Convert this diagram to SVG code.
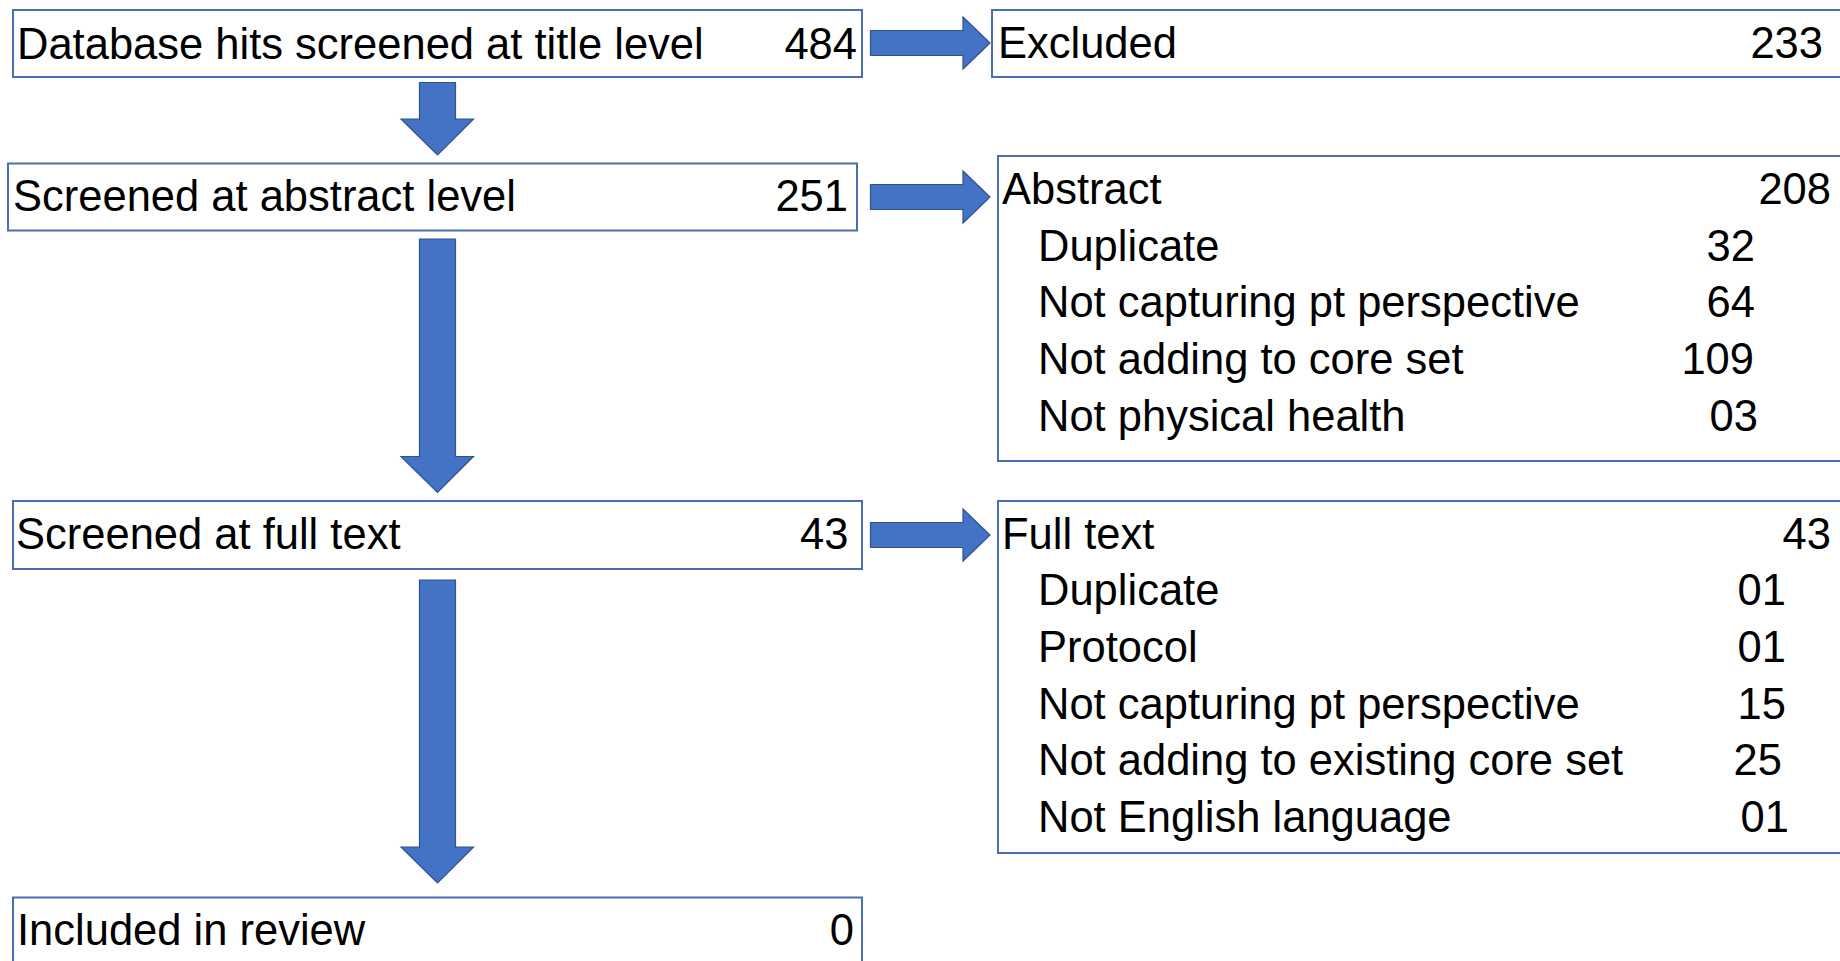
<svg xmlns="http://www.w3.org/2000/svg" width="1840" height="961" viewBox="0 0 1840 961">
<style>
  .box { fill: #ffffff; stroke: #4a6fb0; stroke-width: 2; }
  .arrow { fill: #4472C4; stroke: #2F528F; stroke-width: 1.2; }
  text { font-family: "Liberation Sans", Arial, sans-serif; font-size: 43.5px; fill: #000000; }
  .num { text-anchor: end; }
</style>
<rect width="1840" height="961" fill="#ffffff"/>
<g id="connectors">
  <polygon class="arrow" points="870.5,30.5 963,30.5 963,17 990,43 963,69 963,55.5 870.5,55.5"/>
  <polygon class="arrow" points="870.5,184.5 963,184.5 963,171 990,197 963,223 963,209.5 870.5,209.5"/>
  <polygon class="arrow" points="870.5,522.5 963,522.5 963,509 990,535 963,561 963,547.5 870.5,547.5"/>
  <polygon class="arrow" points="419.5,82.5 455.5,82.5 455.5,119 473.5,119 437.5,155 401,119 419.5,119"/>
  <polygon class="arrow" points="419.5,239 455.5,239 455.5,456.5 473.5,456.5 437.5,492.5 401,456.5 419.5,456.5"/>
  <polygon class="arrow" points="419.5,580 455.5,580 455.5,847 473.5,847 437.5,883 401,847 419.5,847"/>
</g>
<g id="node-title">
  <rect class="box" x="13" y="10" width="849" height="67"/>
  <text x="17" y="58.5">Database hits screened at title level</text>
  <text class="num" x="857" y="58.5">484</text>
</g>
<g id="node-excluded">
  <rect class="box" x="992" y="10" width="860" height="67"/>
  <text x="998" y="57.5">Excluded</text>
  <text class="num" x="1823" y="57.5">233</text>
</g>
<g id="node-abstract-level">
  <rect class="box" x="8" y="163.5" width="849" height="67"/>
  <text x="13" y="211">Screened at abstract level</text>
  <text class="num" x="848" y="211">251</text>
</g>
<g id="node-abstract-excl">
  <rect class="box" x="998" y="156" width="860" height="305"/>
  <text x="1002" y="203.5">Abstract</text>
  <text class="num" x="1831" y="203.5">208</text>
  <text x="1038" y="260.5">Duplicate</text>
  <text class="num" x="1755" y="260.5">32</text>
  <text x="1038" y="317">Not capturing pt perspective</text>
  <text class="num" x="1755" y="317">64</text>
  <text x="1038" y="374">Not adding to core set</text>
  <text class="num" x="1754" y="374">109</text>
  <text x="1038" y="431">Not physical health</text>
  <text class="num" x="1758" y="431">03</text>
</g>
<g id="node-fulltext-level">
  <rect class="box" x="13" y="501" width="849" height="68"/>
  <text x="16" y="548.5">Screened at full text</text>
  <text class="num" x="848.5" y="548.5">43</text>
</g>
<g id="node-fulltext-excl">
  <rect class="box" x="998" y="501" width="860" height="352"/>
  <text x="1002" y="548.5">Full text</text>
  <text class="num" x="1831" y="548.5">43</text>
  <text x="1038" y="605">Duplicate</text>
  <text class="num" x="1786" y="605">01</text>
  <text x="1038" y="662">Protocol</text>
  <text class="num" x="1786" y="662">01</text>
  <text x="1038" y="718.5">Not capturing pt perspective</text>
  <text class="num" x="1786" y="718.5">15</text>
  <text x="1038" y="775">Not adding to existing core set</text>
  <text class="num" x="1782" y="775">25</text>
  <text x="1038" y="832">Not English language</text>
  <text class="num" x="1789" y="832">01</text>
</g>
<g id="node-included">
  <rect class="box" x="13" y="897.5" width="849" height="80"/>
  <text x="17" y="945">Included in review</text>
  <text class="num" x="854" y="945">0</text>
</g>
</svg>
